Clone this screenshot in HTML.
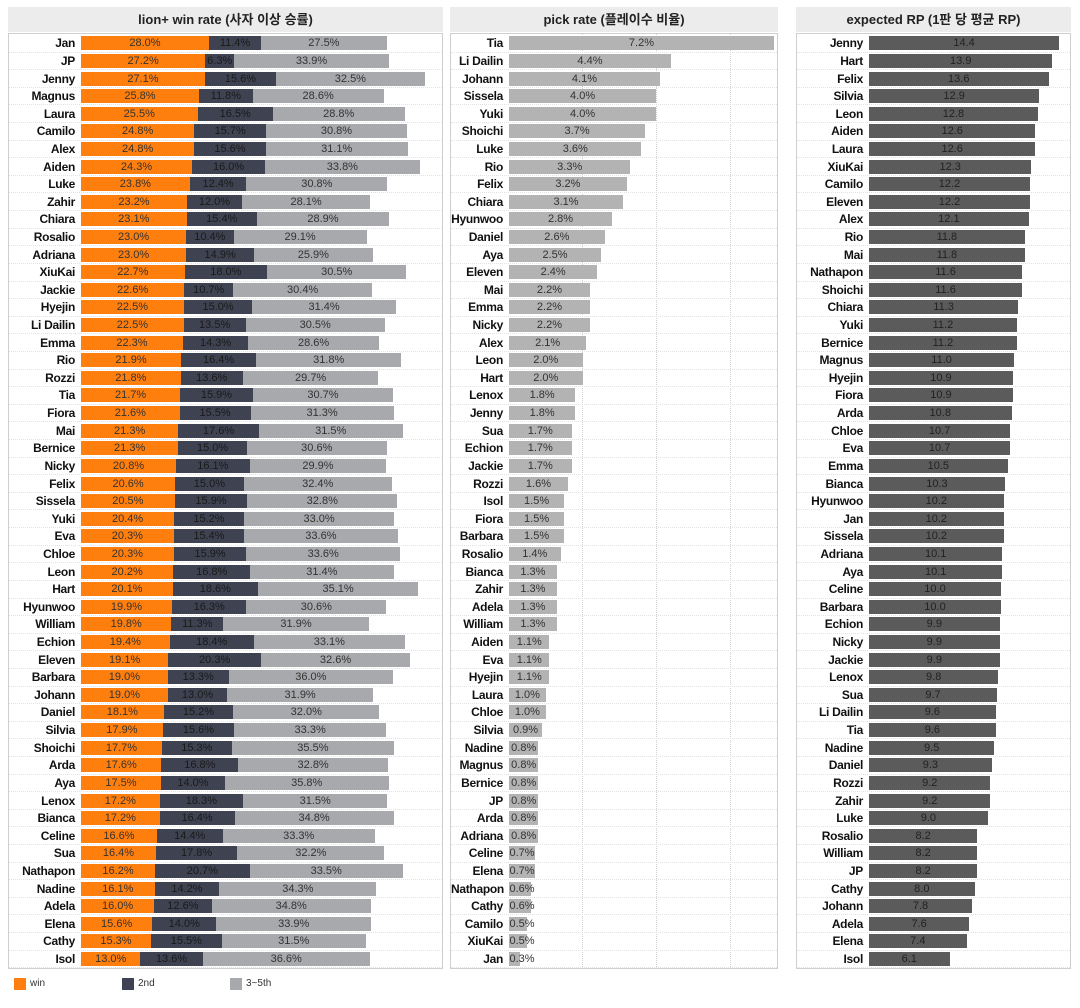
<!DOCTYPE html>
<html><head><meta charset="utf-8"><style>
*{margin:0;padding:0;box-sizing:border-box}
body{width:1080px;height:1008px;background:#fff;font-family:"Liberation Sans","Noto Sans CJK KR",sans-serif;position:relative;overflow:hidden}
.h{position:absolute;top:7px;height:25px;background:#ececec;font-size:13px;font-weight:bold;color:#222;text-align:center;line-height:25px}
.p{position:absolute;top:33px;height:936px;border:1px solid #cfcfcf;padding-top:1px}
.r{height:17.615px;display:flex;align-items:center;position:relative;border-bottom:1px dotted #e2e2e2}
.r b{flex:none;text-align:right;padding-right:6px;font-size:12px;letter-spacing:-0.3px;color:#111}
.r i,.r u,.r s,.r em{flex:none;height:14px;position:relative;font-style:normal;text-decoration:none;font-size:11px;line-height:14px;color:#333;overflow:visible;white-space:nowrap}
.r i span,.r u span,.r s span,.r em span{position:absolute;left:max(50%,13px);transform:translateX(-50%)}
#p1 b{width:72px}
#p1 i{background:#ff7f0e;width:calc(var(--v)*4.57px)}
#p1 u{background:#3f4251;width:calc(var(--v)*4.57px);color:#1a1a1a}
#p1 s{background:#a7a9ac;width:calc(var(--v)*4.57px)}
#p2 b{width:58px}
#p2 em{background:#b3b3b3;width:calc(var(--v)*36.8px)}
#p3 b{width:72px}
#p3 em{background:#5b5b5b;width:calc(var(--v)*13.2px);color:#222}
.g{position:absolute;top:33px;height:936px;border-left:1px dotted #d0d0d0}
.lg{position:absolute;top:978px;width:12px;height:12px}
.lt{position:absolute;top:978px;font-size:10px;color:#333;line-height:12px}
</style></head><body>
<div class="h" style="left:8px;width:435px">lion+ win rate (사자 이상 승률)</div>
<div class="h" style="left:450px;width:328px">pick rate (플레이수 비율)</div>
<div class="h" style="left:796px;width:275px">expected RP (1판 당 평균 RP)</div>
<div class="g" style="left:582px"></div><div class="g" style="left:656px"></div><div class="g" style="left:730px"></div>
<div class="p" id="p1" style="left:8px;width:435px">
<div class="r"><b>Jan</b><i style="--v:28.0"><span>28.0%</span></i><u style="--v:11.4"><span>11.4%</span></u><s style="--v:27.5"><span>27.5%</span></s></div>
<div class="r"><b>JP</b><i style="--v:27.2"><span>27.2%</span></i><u style="--v:6.3"><span>6.3%</span></u><s style="--v:33.9"><span>33.9%</span></s></div>
<div class="r"><b>Jenny</b><i style="--v:27.1"><span>27.1%</span></i><u style="--v:15.6"><span>15.6%</span></u><s style="--v:32.5"><span>32.5%</span></s></div>
<div class="r"><b>Magnus</b><i style="--v:25.8"><span>25.8%</span></i><u style="--v:11.8"><span>11.8%</span></u><s style="--v:28.6"><span>28.6%</span></s></div>
<div class="r"><b>Laura</b><i style="--v:25.5"><span>25.5%</span></i><u style="--v:16.5"><span>16.5%</span></u><s style="--v:28.8"><span>28.8%</span></s></div>
<div class="r"><b>Camilo</b><i style="--v:24.8"><span>24.8%</span></i><u style="--v:15.7"><span>15.7%</span></u><s style="--v:30.8"><span>30.8%</span></s></div>
<div class="r"><b>Alex</b><i style="--v:24.8"><span>24.8%</span></i><u style="--v:15.6"><span>15.6%</span></u><s style="--v:31.1"><span>31.1%</span></s></div>
<div class="r"><b>Aiden</b><i style="--v:24.3"><span>24.3%</span></i><u style="--v:16.0"><span>16.0%</span></u><s style="--v:33.8"><span>33.8%</span></s></div>
<div class="r"><b>Luke</b><i style="--v:23.8"><span>23.8%</span></i><u style="--v:12.4"><span>12.4%</span></u><s style="--v:30.8"><span>30.8%</span></s></div>
<div class="r"><b>Zahir</b><i style="--v:23.2"><span>23.2%</span></i><u style="--v:12.0"><span>12.0%</span></u><s style="--v:28.1"><span>28.1%</span></s></div>
<div class="r"><b>Chiara</b><i style="--v:23.1"><span>23.1%</span></i><u style="--v:15.4"><span>15.4%</span></u><s style="--v:28.9"><span>28.9%</span></s></div>
<div class="r"><b>Rosalio</b><i style="--v:23.0"><span>23.0%</span></i><u style="--v:10.4"><span>10.4%</span></u><s style="--v:29.1"><span>29.1%</span></s></div>
<div class="r"><b>Adriana</b><i style="--v:23.0"><span>23.0%</span></i><u style="--v:14.9"><span>14.9%</span></u><s style="--v:25.9"><span>25.9%</span></s></div>
<div class="r"><b>XiuKai</b><i style="--v:22.7"><span>22.7%</span></i><u style="--v:18.0"><span>18.0%</span></u><s style="--v:30.5"><span>30.5%</span></s></div>
<div class="r"><b>Jackie</b><i style="--v:22.6"><span>22.6%</span></i><u style="--v:10.7"><span>10.7%</span></u><s style="--v:30.4"><span>30.4%</span></s></div>
<div class="r"><b>Hyejin</b><i style="--v:22.5"><span>22.5%</span></i><u style="--v:15.0"><span>15.0%</span></u><s style="--v:31.4"><span>31.4%</span></s></div>
<div class="r"><b>Li Dailin</b><i style="--v:22.5"><span>22.5%</span></i><u style="--v:13.5"><span>13.5%</span></u><s style="--v:30.5"><span>30.5%</span></s></div>
<div class="r"><b>Emma</b><i style="--v:22.3"><span>22.3%</span></i><u style="--v:14.3"><span>14.3%</span></u><s style="--v:28.6"><span>28.6%</span></s></div>
<div class="r"><b>Rio</b><i style="--v:21.9"><span>21.9%</span></i><u style="--v:16.4"><span>16.4%</span></u><s style="--v:31.8"><span>31.8%</span></s></div>
<div class="r"><b>Rozzi</b><i style="--v:21.8"><span>21.8%</span></i><u style="--v:13.6"><span>13.6%</span></u><s style="--v:29.7"><span>29.7%</span></s></div>
<div class="r"><b>Tia</b><i style="--v:21.7"><span>21.7%</span></i><u style="--v:15.9"><span>15.9%</span></u><s style="--v:30.7"><span>30.7%</span></s></div>
<div class="r"><b>Fiora</b><i style="--v:21.6"><span>21.6%</span></i><u style="--v:15.5"><span>15.5%</span></u><s style="--v:31.3"><span>31.3%</span></s></div>
<div class="r"><b>Mai</b><i style="--v:21.3"><span>21.3%</span></i><u style="--v:17.6"><span>17.6%</span></u><s style="--v:31.5"><span>31.5%</span></s></div>
<div class="r"><b>Bernice</b><i style="--v:21.3"><span>21.3%</span></i><u style="--v:15.0"><span>15.0%</span></u><s style="--v:30.6"><span>30.6%</span></s></div>
<div class="r"><b>Nicky</b><i style="--v:20.8"><span>20.8%</span></i><u style="--v:16.1"><span>16.1%</span></u><s style="--v:29.9"><span>29.9%</span></s></div>
<div class="r"><b>Felix</b><i style="--v:20.6"><span>20.6%</span></i><u style="--v:15.0"><span>15.0%</span></u><s style="--v:32.4"><span>32.4%</span></s></div>
<div class="r"><b>Sissela</b><i style="--v:20.5"><span>20.5%</span></i><u style="--v:15.9"><span>15.9%</span></u><s style="--v:32.8"><span>32.8%</span></s></div>
<div class="r"><b>Yuki</b><i style="--v:20.4"><span>20.4%</span></i><u style="--v:15.2"><span>15.2%</span></u><s style="--v:33.0"><span>33.0%</span></s></div>
<div class="r"><b>Eva</b><i style="--v:20.3"><span>20.3%</span></i><u style="--v:15.4"><span>15.4%</span></u><s style="--v:33.6"><span>33.6%</span></s></div>
<div class="r"><b>Chloe</b><i style="--v:20.3"><span>20.3%</span></i><u style="--v:15.9"><span>15.9%</span></u><s style="--v:33.6"><span>33.6%</span></s></div>
<div class="r"><b>Leon</b><i style="--v:20.2"><span>20.2%</span></i><u style="--v:16.8"><span>16.8%</span></u><s style="--v:31.4"><span>31.4%</span></s></div>
<div class="r"><b>Hart</b><i style="--v:20.1"><span>20.1%</span></i><u style="--v:18.6"><span>18.6%</span></u><s style="--v:35.1"><span>35.1%</span></s></div>
<div class="r"><b>Hyunwoo</b><i style="--v:19.9"><span>19.9%</span></i><u style="--v:16.3"><span>16.3%</span></u><s style="--v:30.6"><span>30.6%</span></s></div>
<div class="r"><b>William</b><i style="--v:19.8"><span>19.8%</span></i><u style="--v:11.3"><span>11.3%</span></u><s style="--v:31.9"><span>31.9%</span></s></div>
<div class="r"><b>Echion</b><i style="--v:19.4"><span>19.4%</span></i><u style="--v:18.4"><span>18.4%</span></u><s style="--v:33.1"><span>33.1%</span></s></div>
<div class="r"><b>Eleven</b><i style="--v:19.1"><span>19.1%</span></i><u style="--v:20.3"><span>20.3%</span></u><s style="--v:32.6"><span>32.6%</span></s></div>
<div class="r"><b>Barbara</b><i style="--v:19.0"><span>19.0%</span></i><u style="--v:13.3"><span>13.3%</span></u><s style="--v:36.0"><span>36.0%</span></s></div>
<div class="r"><b>Johann</b><i style="--v:19.0"><span>19.0%</span></i><u style="--v:13.0"><span>13.0%</span></u><s style="--v:31.9"><span>31.9%</span></s></div>
<div class="r"><b>Daniel</b><i style="--v:18.1"><span>18.1%</span></i><u style="--v:15.2"><span>15.2%</span></u><s style="--v:32.0"><span>32.0%</span></s></div>
<div class="r"><b>Silvia</b><i style="--v:17.9"><span>17.9%</span></i><u style="--v:15.6"><span>15.6%</span></u><s style="--v:33.3"><span>33.3%</span></s></div>
<div class="r"><b>Shoichi</b><i style="--v:17.7"><span>17.7%</span></i><u style="--v:15.3"><span>15.3%</span></u><s style="--v:35.5"><span>35.5%</span></s></div>
<div class="r"><b>Arda</b><i style="--v:17.6"><span>17.6%</span></i><u style="--v:16.8"><span>16.8%</span></u><s style="--v:32.8"><span>32.8%</span></s></div>
<div class="r"><b>Aya</b><i style="--v:17.5"><span>17.5%</span></i><u style="--v:14.0"><span>14.0%</span></u><s style="--v:35.8"><span>35.8%</span></s></div>
<div class="r"><b>Lenox</b><i style="--v:17.2"><span>17.2%</span></i><u style="--v:18.3"><span>18.3%</span></u><s style="--v:31.5"><span>31.5%</span></s></div>
<div class="r"><b>Bianca</b><i style="--v:17.2"><span>17.2%</span></i><u style="--v:16.4"><span>16.4%</span></u><s style="--v:34.8"><span>34.8%</span></s></div>
<div class="r"><b>Celine</b><i style="--v:16.6"><span>16.6%</span></i><u style="--v:14.4"><span>14.4%</span></u><s style="--v:33.3"><span>33.3%</span></s></div>
<div class="r"><b>Sua</b><i style="--v:16.4"><span>16.4%</span></i><u style="--v:17.8"><span>17.8%</span></u><s style="--v:32.2"><span>32.2%</span></s></div>
<div class="r"><b>Nathapon</b><i style="--v:16.2"><span>16.2%</span></i><u style="--v:20.7"><span>20.7%</span></u><s style="--v:33.5"><span>33.5%</span></s></div>
<div class="r"><b>Nadine</b><i style="--v:16.1"><span>16.1%</span></i><u style="--v:14.2"><span>14.2%</span></u><s style="--v:34.3"><span>34.3%</span></s></div>
<div class="r"><b>Adela</b><i style="--v:16.0"><span>16.0%</span></i><u style="--v:12.6"><span>12.6%</span></u><s style="--v:34.8"><span>34.8%</span></s></div>
<div class="r"><b>Elena</b><i style="--v:15.6"><span>15.6%</span></i><u style="--v:14.0"><span>14.0%</span></u><s style="--v:33.9"><span>33.9%</span></s></div>
<div class="r"><b>Cathy</b><i style="--v:15.3"><span>15.3%</span></i><u style="--v:15.5"><span>15.5%</span></u><s style="--v:31.5"><span>31.5%</span></s></div>
<div class="r"><b>Isol</b><i style="--v:13.0"><span>13.0%</span></i><u style="--v:13.6"><span>13.6%</span></u><s style="--v:36.6"><span>36.6%</span></s></div>
</div>
<div class="p" id="p2" style="left:450px;width:328px">
<div class="r"><b>Tia</b><em style="--v:7.2"><span>7.2%</span></em></div>
<div class="r"><b>Li Dailin</b><em style="--v:4.4"><span>4.4%</span></em></div>
<div class="r"><b>Johann</b><em style="--v:4.1"><span>4.1%</span></em></div>
<div class="r"><b>Sissela</b><em style="--v:4.0"><span>4.0%</span></em></div>
<div class="r"><b>Yuki</b><em style="--v:4.0"><span>4.0%</span></em></div>
<div class="r"><b>Shoichi</b><em style="--v:3.7"><span>3.7%</span></em></div>
<div class="r"><b>Luke</b><em style="--v:3.6"><span>3.6%</span></em></div>
<div class="r"><b>Rio</b><em style="--v:3.3"><span>3.3%</span></em></div>
<div class="r"><b>Felix</b><em style="--v:3.2"><span>3.2%</span></em></div>
<div class="r"><b>Chiara</b><em style="--v:3.1"><span>3.1%</span></em></div>
<div class="r"><b>Hyunwoo</b><em style="--v:2.8"><span>2.8%</span></em></div>
<div class="r"><b>Daniel</b><em style="--v:2.6"><span>2.6%</span></em></div>
<div class="r"><b>Aya</b><em style="--v:2.5"><span>2.5%</span></em></div>
<div class="r"><b>Eleven</b><em style="--v:2.4"><span>2.4%</span></em></div>
<div class="r"><b>Mai</b><em style="--v:2.2"><span>2.2%</span></em></div>
<div class="r"><b>Emma</b><em style="--v:2.2"><span>2.2%</span></em></div>
<div class="r"><b>Nicky</b><em style="--v:2.2"><span>2.2%</span></em></div>
<div class="r"><b>Alex</b><em style="--v:2.1"><span>2.1%</span></em></div>
<div class="r"><b>Leon</b><em style="--v:2.0"><span>2.0%</span></em></div>
<div class="r"><b>Hart</b><em style="--v:2.0"><span>2.0%</span></em></div>
<div class="r"><b>Lenox</b><em style="--v:1.8"><span>1.8%</span></em></div>
<div class="r"><b>Jenny</b><em style="--v:1.8"><span>1.8%</span></em></div>
<div class="r"><b>Sua</b><em style="--v:1.7"><span>1.7%</span></em></div>
<div class="r"><b>Echion</b><em style="--v:1.7"><span>1.7%</span></em></div>
<div class="r"><b>Jackie</b><em style="--v:1.7"><span>1.7%</span></em></div>
<div class="r"><b>Rozzi</b><em style="--v:1.6"><span>1.6%</span></em></div>
<div class="r"><b>Isol</b><em style="--v:1.5"><span>1.5%</span></em></div>
<div class="r"><b>Fiora</b><em style="--v:1.5"><span>1.5%</span></em></div>
<div class="r"><b>Barbara</b><em style="--v:1.5"><span>1.5%</span></em></div>
<div class="r"><b>Rosalio</b><em style="--v:1.4"><span>1.4%</span></em></div>
<div class="r"><b>Bianca</b><em style="--v:1.3"><span>1.3%</span></em></div>
<div class="r"><b>Zahir</b><em style="--v:1.3"><span>1.3%</span></em></div>
<div class="r"><b>Adela</b><em style="--v:1.3"><span>1.3%</span></em></div>
<div class="r"><b>William</b><em style="--v:1.3"><span>1.3%</span></em></div>
<div class="r"><b>Aiden</b><em style="--v:1.1"><span>1.1%</span></em></div>
<div class="r"><b>Eva</b><em style="--v:1.1"><span>1.1%</span></em></div>
<div class="r"><b>Hyejin</b><em style="--v:1.1"><span>1.1%</span></em></div>
<div class="r"><b>Laura</b><em style="--v:1.0"><span>1.0%</span></em></div>
<div class="r"><b>Chloe</b><em style="--v:1.0"><span>1.0%</span></em></div>
<div class="r"><b>Silvia</b><em style="--v:0.9"><span>0.9%</span></em></div>
<div class="r"><b>Nadine</b><em style="--v:0.8"><span>0.8%</span></em></div>
<div class="r"><b>Magnus</b><em style="--v:0.8"><span>0.8%</span></em></div>
<div class="r"><b>Bernice</b><em style="--v:0.8"><span>0.8%</span></em></div>
<div class="r"><b>JP</b><em style="--v:0.8"><span>0.8%</span></em></div>
<div class="r"><b>Arda</b><em style="--v:0.8"><span>0.8%</span></em></div>
<div class="r"><b>Adriana</b><em style="--v:0.8"><span>0.8%</span></em></div>
<div class="r"><b>Celine</b><em style="--v:0.7"><span>0.7%</span></em></div>
<div class="r"><b>Elena</b><em style="--v:0.7"><span>0.7%</span></em></div>
<div class="r"><b>Nathapon</b><em style="--v:0.6"><span>0.6%</span></em></div>
<div class="r"><b>Cathy</b><em style="--v:0.6"><span>0.6%</span></em></div>
<div class="r"><b>Camilo</b><em style="--v:0.5"><span>0.5%</span></em></div>
<div class="r"><b>XiuKai</b><em style="--v:0.5"><span>0.5%</span></em></div>
<div class="r"><b>Jan</b><em style="--v:0.3"><span>0.3%</span></em></div>
</div>
<div class="p" id="p3" style="left:796px;width:275px">
<div class="r"><b>Jenny</b><em style="--v:14.4"><span>14.4</span></em></div>
<div class="r"><b>Hart</b><em style="--v:13.9"><span>13.9</span></em></div>
<div class="r"><b>Felix</b><em style="--v:13.6"><span>13.6</span></em></div>
<div class="r"><b>Silvia</b><em style="--v:12.9"><span>12.9</span></em></div>
<div class="r"><b>Leon</b><em style="--v:12.8"><span>12.8</span></em></div>
<div class="r"><b>Aiden</b><em style="--v:12.6"><span>12.6</span></em></div>
<div class="r"><b>Laura</b><em style="--v:12.6"><span>12.6</span></em></div>
<div class="r"><b>XiuKai</b><em style="--v:12.3"><span>12.3</span></em></div>
<div class="r"><b>Camilo</b><em style="--v:12.2"><span>12.2</span></em></div>
<div class="r"><b>Eleven</b><em style="--v:12.2"><span>12.2</span></em></div>
<div class="r"><b>Alex</b><em style="--v:12.1"><span>12.1</span></em></div>
<div class="r"><b>Rio</b><em style="--v:11.8"><span>11.8</span></em></div>
<div class="r"><b>Mai</b><em style="--v:11.8"><span>11.8</span></em></div>
<div class="r"><b>Nathapon</b><em style="--v:11.6"><span>11.6</span></em></div>
<div class="r"><b>Shoichi</b><em style="--v:11.6"><span>11.6</span></em></div>
<div class="r"><b>Chiara</b><em style="--v:11.3"><span>11.3</span></em></div>
<div class="r"><b>Yuki</b><em style="--v:11.2"><span>11.2</span></em></div>
<div class="r"><b>Bernice</b><em style="--v:11.2"><span>11.2</span></em></div>
<div class="r"><b>Magnus</b><em style="--v:11.0"><span>11.0</span></em></div>
<div class="r"><b>Hyejin</b><em style="--v:10.9"><span>10.9</span></em></div>
<div class="r"><b>Fiora</b><em style="--v:10.9"><span>10.9</span></em></div>
<div class="r"><b>Arda</b><em style="--v:10.8"><span>10.8</span></em></div>
<div class="r"><b>Chloe</b><em style="--v:10.7"><span>10.7</span></em></div>
<div class="r"><b>Eva</b><em style="--v:10.7"><span>10.7</span></em></div>
<div class="r"><b>Emma</b><em style="--v:10.5"><span>10.5</span></em></div>
<div class="r"><b>Bianca</b><em style="--v:10.3"><span>10.3</span></em></div>
<div class="r"><b>Hyunwoo</b><em style="--v:10.2"><span>10.2</span></em></div>
<div class="r"><b>Jan</b><em style="--v:10.2"><span>10.2</span></em></div>
<div class="r"><b>Sissela</b><em style="--v:10.2"><span>10.2</span></em></div>
<div class="r"><b>Adriana</b><em style="--v:10.1"><span>10.1</span></em></div>
<div class="r"><b>Aya</b><em style="--v:10.1"><span>10.1</span></em></div>
<div class="r"><b>Celine</b><em style="--v:10.0"><span>10.0</span></em></div>
<div class="r"><b>Barbara</b><em style="--v:10.0"><span>10.0</span></em></div>
<div class="r"><b>Echion</b><em style="--v:9.9"><span>9.9</span></em></div>
<div class="r"><b>Nicky</b><em style="--v:9.9"><span>9.9</span></em></div>
<div class="r"><b>Jackie</b><em style="--v:9.9"><span>9.9</span></em></div>
<div class="r"><b>Lenox</b><em style="--v:9.8"><span>9.8</span></em></div>
<div class="r"><b>Sua</b><em style="--v:9.7"><span>9.7</span></em></div>
<div class="r"><b>Li Dailin</b><em style="--v:9.6"><span>9.6</span></em></div>
<div class="r"><b>Tia</b><em style="--v:9.6"><span>9.6</span></em></div>
<div class="r"><b>Nadine</b><em style="--v:9.5"><span>9.5</span></em></div>
<div class="r"><b>Daniel</b><em style="--v:9.3"><span>9.3</span></em></div>
<div class="r"><b>Rozzi</b><em style="--v:9.2"><span>9.2</span></em></div>
<div class="r"><b>Zahir</b><em style="--v:9.2"><span>9.2</span></em></div>
<div class="r"><b>Luke</b><em style="--v:9.0"><span>9.0</span></em></div>
<div class="r"><b>Rosalio</b><em style="--v:8.2"><span>8.2</span></em></div>
<div class="r"><b>William</b><em style="--v:8.2"><span>8.2</span></em></div>
<div class="r"><b>JP</b><em style="--v:8.2"><span>8.2</span></em></div>
<div class="r"><b>Cathy</b><em style="--v:8.0"><span>8.0</span></em></div>
<div class="r"><b>Johann</b><em style="--v:7.8"><span>7.8</span></em></div>
<div class="r"><b>Adela</b><em style="--v:7.6"><span>7.6</span></em></div>
<div class="r"><b>Elena</b><em style="--v:7.4"><span>7.4</span></em></div>
<div class="r"><b>Isol</b><em style="--v:6.1"><span>6.1</span></em></div>
</div>
<div class="lg" style="left:14px;background:#ff7f0e"></div><div class="lt" style="left:30px">win</div>
<div class="lg" style="left:122px;background:#3f4251"></div><div class="lt" style="left:138px">2nd</div>
<div class="lg" style="left:230px;background:#a7a9ac"></div><div class="lt" style="left:246px">3~5th</div>
</body></html>
